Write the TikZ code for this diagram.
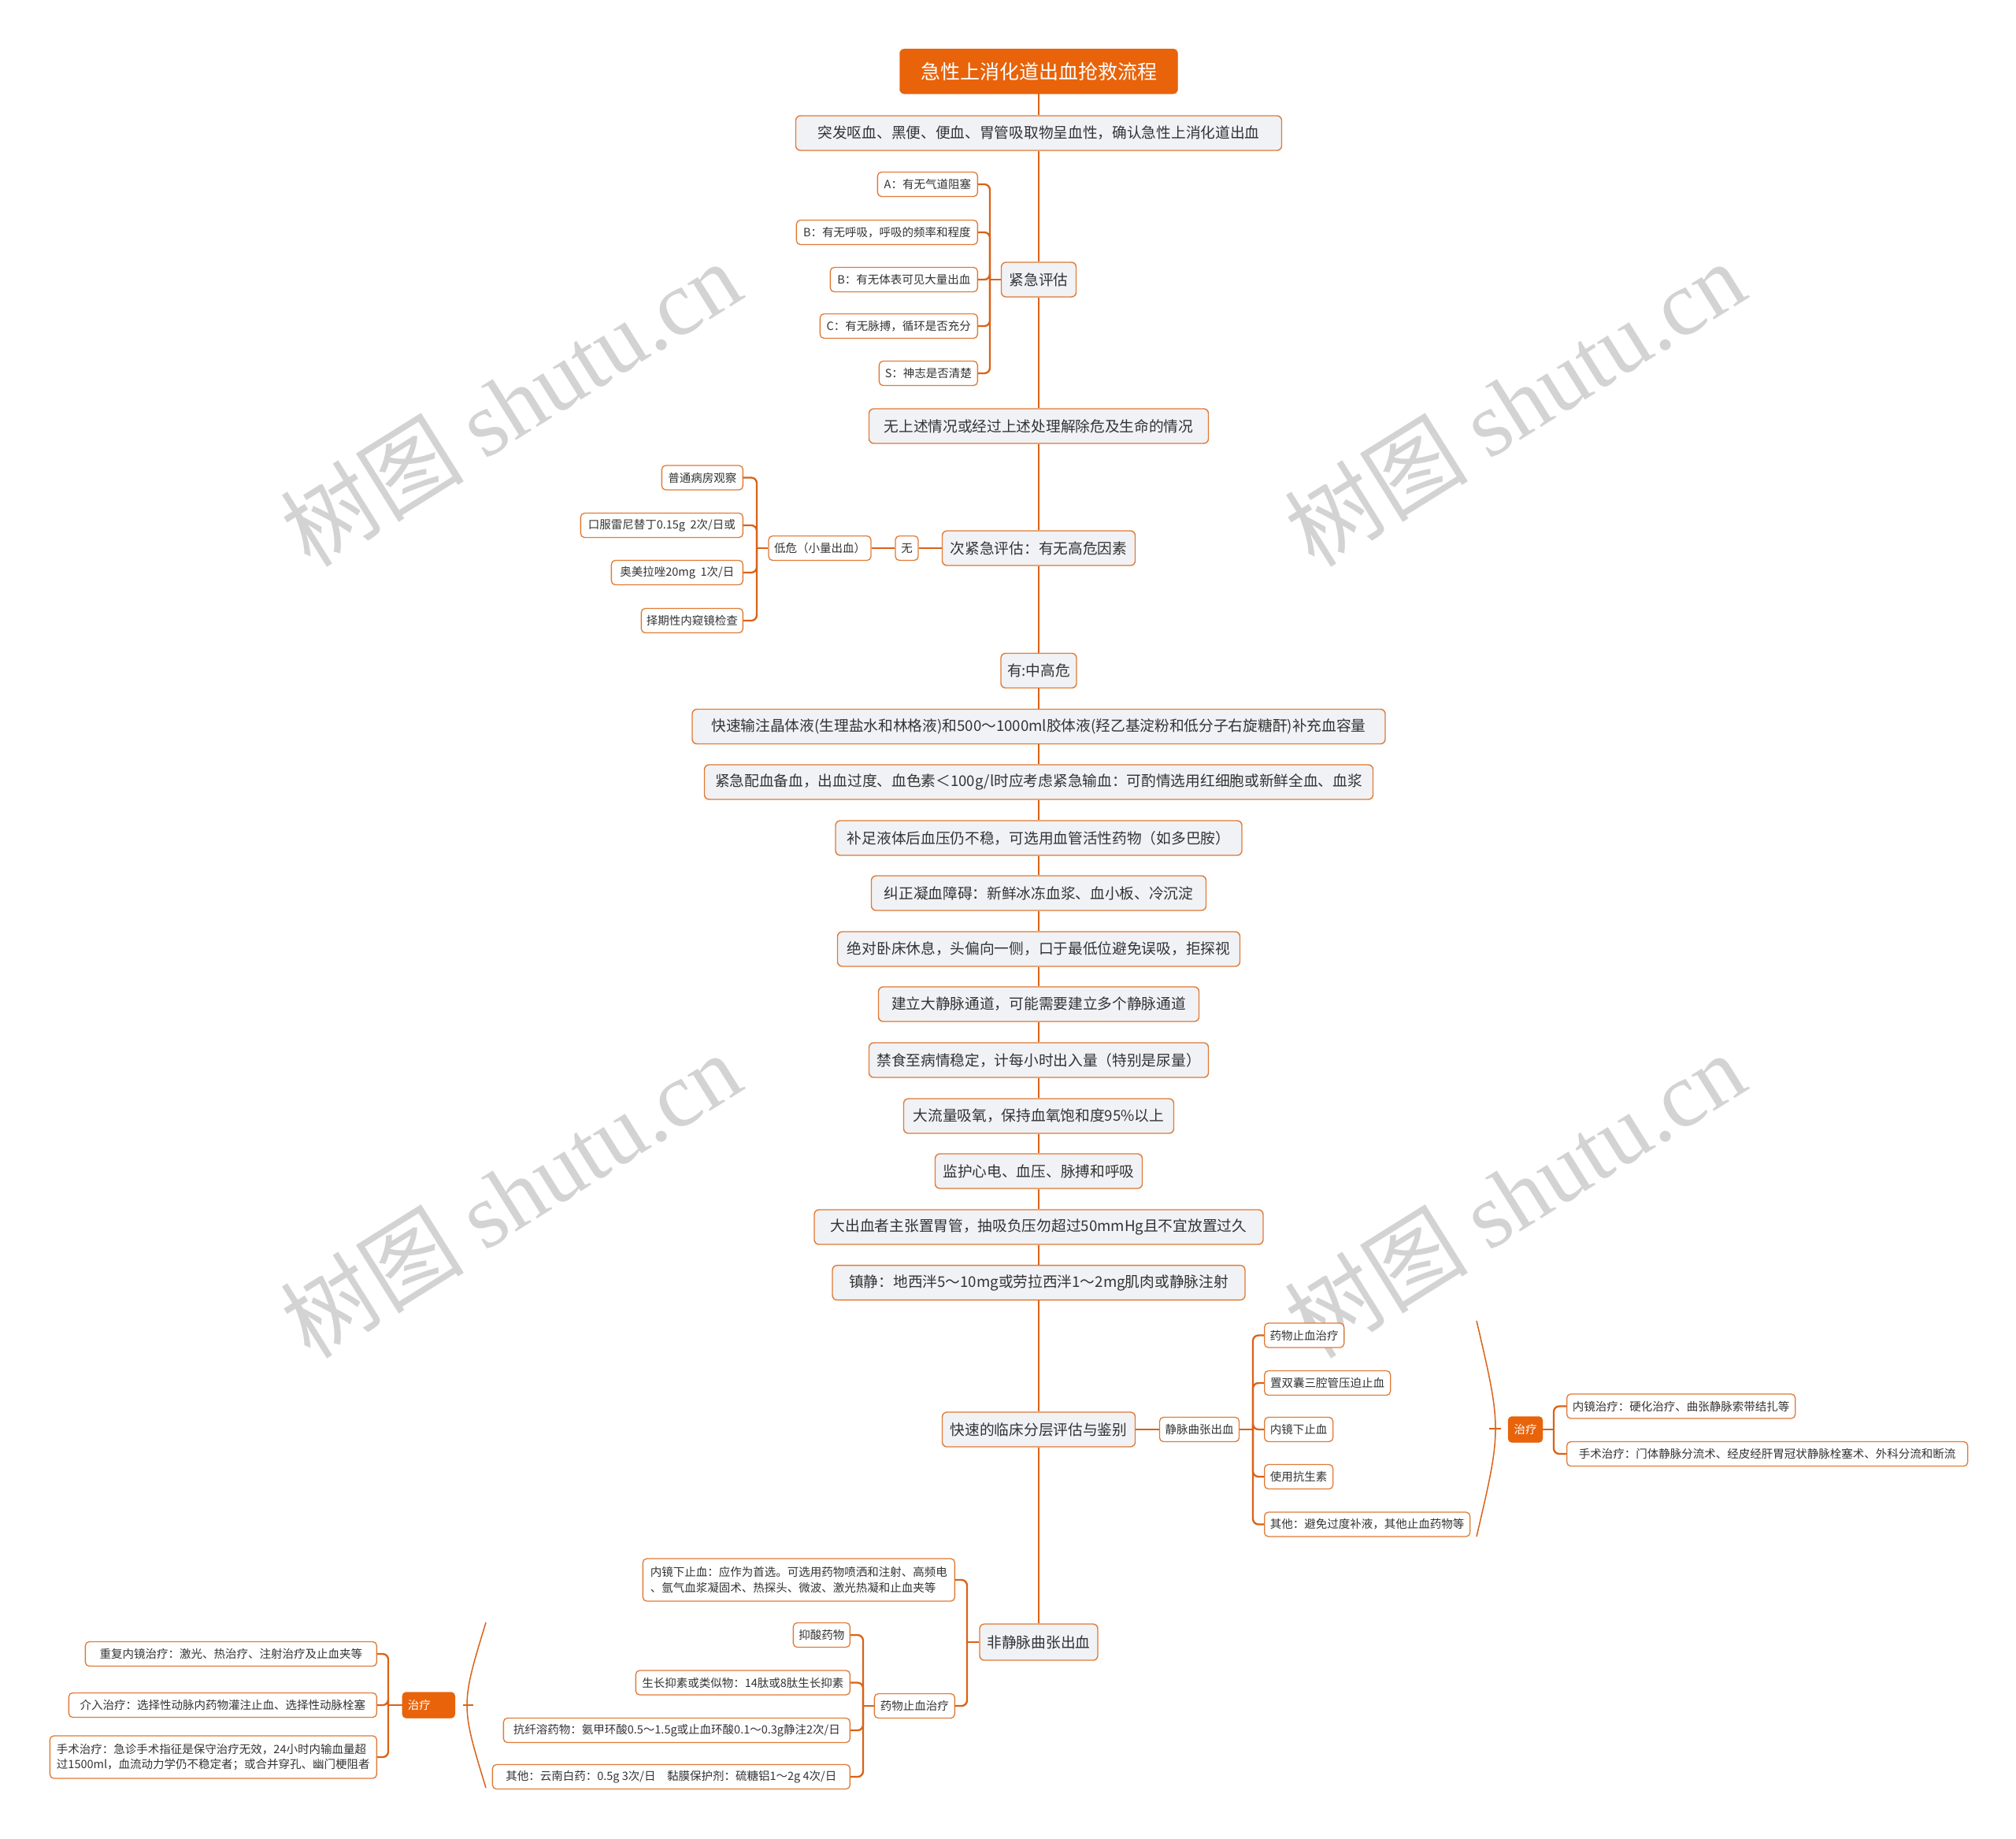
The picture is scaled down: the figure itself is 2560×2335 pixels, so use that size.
\documentclass[tikz,border=0pt]{standalone}
\usepackage{fontspec}
\newfontfamily\cjk{Noto Sans CJK SC}
\newfontfamily\wmserif{Liberation Serif}
\definecolor{orn}{HTML}{E8630A}
\definecolor{ln}{HTML}{DA6217}
\definecolor{bd}{HTML}{E07A35}
\definecolor{fl}{HTML}{F0F2F5}
\definecolor{tx}{HTML}{333333}
\definecolor{wm}{HTML}{D3D3D3}
\begin{document}
\begin{tikzpicture}[x=1pt,y=-1pt,
  mbox/.style={draw=bd, fill=fl, line width=1.4pt, rounded corners=6pt, font=\cjk\fontsize{18.7}{23}\selectfont, text=tx, minimum height=44pt, inner xsep=8pt, inner ysep=0pt},
  sbox/.style={draw=bd, fill=white, line width=1.3pt, rounded corners=5pt, font=\cjk\fontsize{14.5}{19.5}\selectfont, text=tx, minimum height=31pt, inner xsep=6pt, inner ysep=0pt},
  tbox/.style={draw=orn, fill=orn, rounded corners=6pt, font=\cjk\fontsize{25}{30}\selectfont, text=white, minimum height=57pt, minimum width=353pt, inner ysep=0pt},
  zbox/.style={draw=orn, fill=orn, rounded corners=5pt, font=\cjk\fontsize{14.5}{19}\selectfont, text=white, minimum height=33pt, inner ysep=0pt},
  spn/.style={draw=ln, line width=2.7pt},
  brl/.style={draw=ln, line width=2.3pt, rounded corners=7pt},
  arcl/.style={draw=ln, line width=1.5pt},
  wmk/.style={text=wm, rotate=32, font=\fontsize{117}{120}\selectfont}
]
\fill[white] (0,0) rectangle (2560,2335);
\useasboundingbox (0,0) rectangle (2560,2335);

% watermarks
\node[wmk] (wm1) at (648,512) {\cjk 树图 \wmserif shutu.cn};
\node[wmk] (wm2) at (1923,512) {\cjk 树图 \wmserif shutu.cn};
\node[wmk] (wm3) at (648,1517) {\cjk 树图 \wmserif shutu.cn};
\node[wmk] (wm4) at (1923,1517) {\cjk 树图 \wmserif shutu.cn};

% spine nodes
\node[tbox] (t0) at (1319,90.6) {急性上消化道出血抢救流程};
\node[mbox, minimum width=617pt] (n1) at (1319,169) {突发呕血、黑便、便血、胃管吸取物呈血性，确认急性上消化道出血};
\node[mbox, minimum width=95pt] (ev) at (1319,355) {紧急评估};
\node[mbox, minimum width=431pt] (wsq) at (1319,541) {无上述情况或经过上述处理解除危及生命的情况};
\node[mbox, minimum width=245pt] (cj) at (1319,696) {次紧急评估：有无高危因素};
\node[mbox, minimum width=95pt] (zg) at (1319,851.5) {有:中高危};
\node[mbox, minimum width=880pt] (k1) at (1319,922.5) {快速输注晶体液(生理盐水和林格液)和500～1000ml胶体液(羟乙基淀粉和低分子右旋糖酐)补充血容量};
\node[mbox, minimum width=849pt] (k2) at (1319,993) {紧急配血备血，出血过度、血色素＜100g/l时应考虑紧急输血：可酌情选用红细胞或新鲜全血、血浆};
\node[mbox, minimum width=516pt] (k3) at (1319,1064) {补足液体后血压仍不稳，可选用血管活性药物（如多巴胺）};
\node[mbox, minimum width=425pt] (k4) at (1319,1134) {纠正凝血障碍：新鲜冰冻血浆、血小板、冷沉淀};
\node[mbox, minimum width=511pt] (k5) at (1319,1205) {绝对卧床休息，头偏向一侧，口于最低位避免误吸，拒探视};
\node[mbox, minimum width=407pt] (k6) at (1319,1275) {建立大静脉通道，可能需要建立多个静脉通道};
\node[mbox, minimum width=431pt] (k7) at (1319,1346) {禁食至病情稳定，计每小时出入量（特别是尿量）};
\node[mbox, minimum width=343pt] (k8) at (1319,1417) {大流量吸氧，保持血氧饱和度95\%以上};
\node[mbox, minimum width=263pt] (k9) at (1319,1487) {监护心电、血压、脉搏和呼吸};
\node[mbox, minimum width=570pt] (k10) at (1319,1558) {大出血者主张置胃管，抽吸负压勿超过50mmHg且不宜放置过久};
\node[mbox, minimum width=524pt] (k11) at (1319,1628.6) {镇静：地西泮5～10mg或劳拉西泮1～2mg肌肉或静脉注射};
\node[mbox, minimum width=245pt] (fs) at (1319,1815) {快速的临床分层评估与鉴别};
\node[mbox, minimum width=150pt, minimum height=46pt] (fj) at (1319,2085) {非静脉曲张出血};

% spine connectors
\draw[spn] (t0.south) -- (n1.north);
\draw[spn] (n1.south) -- (ev.north);
\draw[spn] (ev.south) -- (wsq.north);
\draw[spn] (wsq.south) -- (cj.north);
\draw[spn] (cj.south) -- (zg.north);
\draw[spn] (zg.south) -- (k1.north);
\draw[spn] (k1.south) -- (k2.north);
\draw[spn] (k2.south) -- (k3.north);
\draw[spn] (k3.south) -- (k4.north);
\draw[spn] (k4.south) -- (k5.north);
\draw[spn] (k5.south) -- (k6.north);
\draw[spn] (k6.south) -- (k7.north);
\draw[spn] (k7.south) -- (k8.north);
\draw[spn] (k8.south) -- (k9.north);
\draw[spn] (k9.south) -- (k10.north);
\draw[spn] (k10.south) -- (k11.north);
\draw[spn] (k11.south) -- (fs.north);
\draw[spn] (fs.south) -- (fj.north);

% ABCS
\node[sbox, anchor=east, minimum width=127pt] (ea) at (1242,234) {A：有无气道阻塞};
\node[sbox, anchor=east, minimum width=230pt] (eb1) at (1242,295) {B：有无呼吸，呼吸的频率和程度};
\node[sbox, anchor=east, minimum width=187pt] (eb2) at (1242,355) {B：有无体表可见大量出血};
\node[sbox, anchor=east, minimum width=200pt] (ec) at (1242,414) {C：有无脉搏，循环是否充分};
\node[sbox, anchor=east, minimum width=125pt] (es) at (1242,474) {S：神志是否清楚};
\coordinate (evb) at (1257,355);
\draw[brl] (ev.west) -- (evb);
\draw[brl] (evb) |- (ea.east);
\draw[brl] (evb) |- (eb1.east);
\draw[brl] (evb) |- (eb2.east);
\draw[brl] (evb) |- (ec.east);
\draw[brl] (evb) |- (es.east);

% low risk
\node[sbox, minimum width=29pt] (wn) at (1151.5,696) {无};
\node[sbox, minimum width=130pt] (dw) at (1041,696) {低危（小量出血）};
\draw[brl] (cj.west) -- (wn.east);
\draw[brl] (wn.west) -- (dw.east);
\node[sbox, anchor=east, minimum width=103pt] (d1) at (944,606.5) {普通病房观察};
\node[sbox, anchor=east, minimum width=206pt] (d2) at (944,667) {口服雷尼替丁0.15g~~2次/日或};
\node[sbox, anchor=east, minimum width=167pt] (d3) at (944,727) {奥美拉唑20mg~~1次/日};
\node[sbox, anchor=east, minimum width=129pt] (d4) at (944,788) {择期性内窥镜检查};
\coordinate (dwb) at (961,696);
\draw[brl] (dw.west) -- (dwb);
\draw[brl] (dwb) |- (d1.east);
\draw[brl] (dwb) |- (d2.east);
\draw[brl] (dwb) |- (d3.east);
\draw[brl] (dwb) |- (d4.east);

% varices branch
\node[sbox, minimum width=101pt] (jm) at (1523,1815) {静脉曲张出血};
\draw[brl] (fs.east) -- (jm.west);
\coordinate (jmb) at (1591,1815);
\draw[brl] (jm.east) -- (jmb);
\node[sbox, anchor=west, minimum width=101pt] (j1) at (1605,1695.5) {药物止血治疗};
\node[sbox, anchor=west, minimum width=160pt] (j2) at (1605,1756) {置双囊三腔管压迫止血};
\node[sbox, anchor=west, minimum width=87pt] (j3) at (1605,1815) {内镜下止血};
\node[sbox, anchor=west, minimum width=87pt] (j4) at (1605,1875) {使用抗生素};
\node[sbox, anchor=west, minimum width=261pt] (j5) at (1605,1935.5) {其他：避免过度补液，其他止血药物等};
\draw[brl] (jmb) |- (j1.west);
\draw[brl] (jmb) |- (j2.west);
\draw[brl] (jmb) |- (j3.west);
\draw[brl] (jmb) |- (j4.west);
\draw[brl] (jmb) |- (j5.west);

% right summary
\coordinate (ra1) at (1875,1677);
\coordinate (ra2) at (1875,1951);
\coordinate (ram) at (1891,1814);
\coordinate (rat) at (1906,1814);
\draw[arcl] (ra1) .. controls (1907,1814) .. (ra2);
\draw[arcl] (ram) -- (rat);
\node[zbox, minimum width=44pt] (zr) at (1937,1815) {治疗};
\coordinate (zrb) at (1973,1815);
\draw[brl] (zr.east) -- (zrb);
\node[sbox, anchor=west, minimum width=290pt] (r1) at (1989,1785.5) {内镜治疗：硬化治疗、曲张静脉索带结扎等};
\node[sbox, anchor=west, minimum width=509pt] (r2) at (1989,1846) {手术治疗：门体静脉分流术、经皮经肝胃冠状静脉栓塞术、外科分流和断流};
\draw[brl] (zrb) |- (r1.west);
\draw[brl] (zrb) |- (r2.west);

% non-varices branch
\coordinate (fjb) at (1228,2085);
\draw[brl] (fj.west) -- (fjb);
\node[sbox, anchor=east, minimum width=396pt, minimum height=54pt, align=left] (nj) at (1213,2006) {内镜下止血：应作为首选。可选用药物喷洒和注射、高频电\\、氩气血浆凝固术、热探头、微波、激光热凝和止血夹等};
\node[sbox, anchor=east, minimum width=102pt] (yw) at (1213,2166) {药物止血治疗};
\draw[brl] (fjb) |- (nj.east);
\draw[brl] (fjb) |- (yw.east);
\coordinate (ywb) at (1096,2166);
\draw[brl] (yw.west) -- (ywb);
\node[sbox, anchor=east, minimum width=72pt] (y1) at (1080,2076) {抑酸药物};
\node[sbox, anchor=east, minimum width=272pt] (y2) at (1080,2136.5) {生长抑素或类似物：14肽或8肽生长抑素};
\node[sbox, anchor=east, minimum width=440pt] (y3) at (1080,2197) {抗纤溶药物：氨甲环酸0.5～1.5g或止血环酸0.1～0.3g静注2次/日};
\node[sbox, anchor=east, minimum width=454pt] (y4) at (1080,2256) {其他：云南白药：0.5g 3次/日　黏膜保护剂：硫糖铝1～2g 4次/日};
\draw[brl] (ywb) |- (y1.east);
\draw[brl] (ywb) |- (y2.east);
\draw[brl] (ywb) |- (y3.east);
\draw[brl] (ywb) |- (y4.east);

% left summary
\coordinate (la1) at (617,2060);
\coordinate (la2) at (617,2270);
\coordinate (lam) at (601,2165);
\coordinate (lat) at (588,2165);
\draw[arcl] (la1) .. controls (585,2165) .. (la2);
\draw[arcl] (lam) -- (lat);
\node[zbox, anchor=east, text width=53pt, align=left, inner xsep=7pt] (zl) at (578,2165) {治疗};
\coordinate (zlb) at (493,2165);
\draw[brl] (zl.west) -- (zlb);
\node[sbox, anchor=east, minimum width=370pt] (l1) at (479,2100) {重复内镜治疗：激光、热治疗、注射治疗及止血夹等};
\node[sbox, anchor=east, minimum width=391pt] (l2) at (479,2165) {介入治疗：选择性动脉内药物灌注止血、选择性动脉栓塞};
\node[sbox, anchor=east, minimum width=415pt, minimum height=54pt, align=left] (l3) at (479,2231) {手术治疗：急诊手术指征是保守治疗无效，24小时内输血量超\\过1500ml，血流动力学仍不稳定者；或合并穿孔、幽门梗阻者};
\draw[brl] (zlb) |- (l1.east);
\draw[brl] (zlb) |- (l2.east);
\draw[brl] (zlb) |- (l3.east);
\end{tikzpicture}
\end{document}
